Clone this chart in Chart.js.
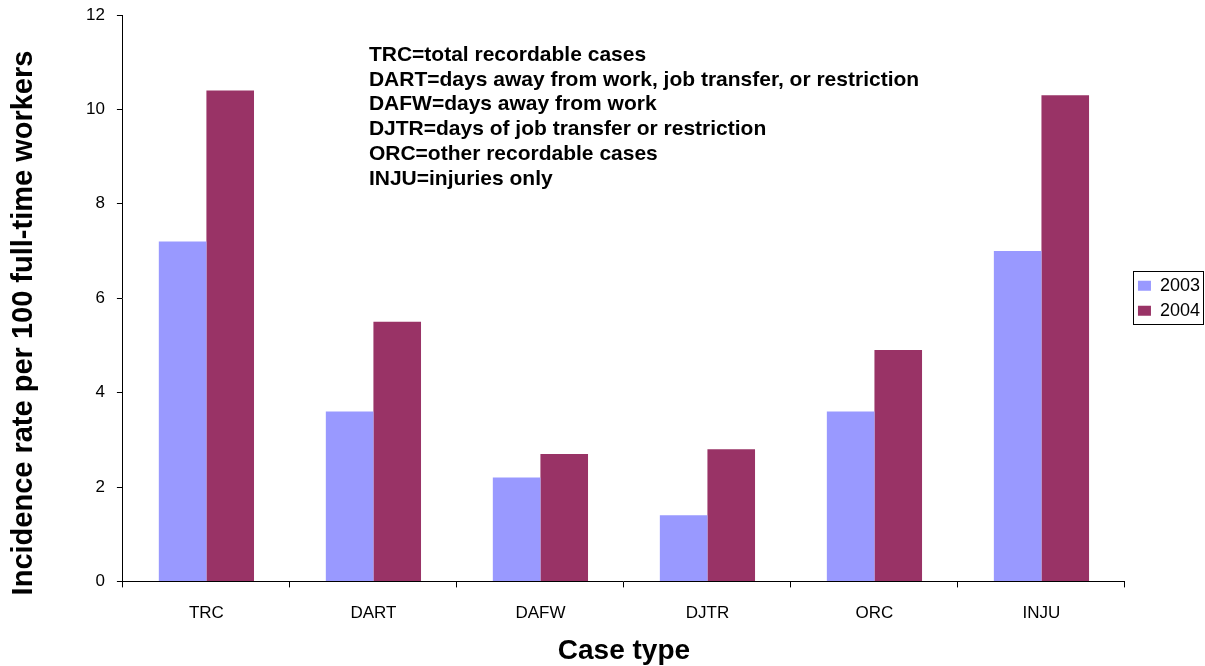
<!DOCTYPE html>
<html>
<head>
<meta charset="utf-8">
<script src="https://cdn.jsdelivr.net/npm/chart.js@4/dist/chart.umd.min.js"></script>
<style>
  html, body { margin: 0; padding: 0; background: #fff; }
  #wrap { width: 1205px; height: 666px; position: relative; }
</style>
</head>
<body>
<div id="wrap"><canvas id="c" width="1205" height="666"></canvas></div>
<script>
const categories = ["TRC", "DART", "DAFW", "DJTR", "ORC", "INJU"];
const series2003 = [7.2, 3.6, 2.2, 1.4, 3.6, 7.0];
const series2004 = [10.4, 5.5, 2.7, 2.8, 4.9, 10.3];
const seriesNames = ["2003", "2004"];
const yTicks = [0, 2, 4, 6, 8, 10, 12];
const yTitle = "Incidence rate per 100 full-time workers";
const xTitle = "Case type";
const notes = [
  "TRC=total recordable cases",
  "DART=days away from work, job transfer, or restriction",
  "DAFW=days away from work",
  "DJTR=days of job transfer or restriction",
  "ORC=other recordable cases",
  "INJU=injuries only"
];

const FONT = "'Liberation Sans', Arial, Helvetica, sans-serif";
const LEG_PAD = 7;
const LEG_FONT = 18;

const notesPlugin = {
  id: 'notes',
  afterDraw(chart) {
    const ctx = chart.ctx;
    const a = chart.chartArea;
    ctx.save();
    ctx.font = "bold 21px " + FONT;
    ctx.fillStyle = "#000";
    ctx.textBaseline = "middle";
    ctx.textAlign = "left";
    notes.forEach((t, i) => {
      ctx.fillText(t, a.left + 246, 55 + i * 24.8);
    });
    // rotated y-axis title
    ctx.font = "bold 29px " + FONT;
    ctx.textAlign = "center";
    ctx.textBaseline = "alphabetic";
    ctx.translate(32, 323);
    ctx.rotate(-Math.PI / 2);
    ctx.fillText(yTitle, 0, 0);
    ctx.restore();
  }
};

// place the legend next to the plot area (vertically centred on it) and frame it
const legendPlace = {
  id: 'legendPlace',
  afterLayout(chart) {
    const l = chart.legend;
    const a = chart.chartArea;
    if (!l) return;
    l.left = a.right + 6;
    l.right = 1205;
    l.width = l.right - l.left;
    l.top = a.top;
    l.bottom = a.bottom;
    l.height = l.bottom - l.top;
  },
  afterDraw(chart) {
    const l = chart.legend;
    if (!l || !l.columnSizes) return;
    const colH = l.columnSizes[0].height;
    const startY = ((l.top + LEG_PAD) + (l.bottom - colH)) / 2;
    const ctx = chart.ctx;
    ctx.save();
    ctx.strokeStyle = "#000";
    ctx.lineWidth = 1;
    const x0 = Math.round(l.left + 2) + 0.5;
    const y0 = Math.round(startY - 6) + 0.5;
    const y1 = Math.round(startY + colH - 3) + 0.5;
    ctx.strokeRect(x0, y0, 1203.5 - x0, y1 - y0);
    ctx.restore();
  }
};

new Chart(document.getElementById('c'), {
  type: 'bar',
  data: {
    labels: categories,
    datasets: [
      { label: seriesNames[0], data: series2003, backgroundColor: "#9999FF", borderWidth: 0 },
      { label: seriesNames[1], data: series2004, backgroundColor: "#993366", borderWidth: 0 }
    ]
  },
  options: {
    responsive: false,
    animation: false,
    devicePixelRatio: 1,
    layout: { padding: { top: 15, right: 1, left: 74, bottom: 0 } },
    datasets: { bar: { barPercentage: 1.0, categoryPercentage: 0.57 } },
    plugins: {
      legend: {
        position: 'right',
        align: 'center',
        labels: {
          color: "#000",
          font: { family: FONT, size: LEG_FONT },
          boxWidth: 13,
          boxHeight: 10,
          padding: LEG_PAD
        }
      },
      tooltip: { enabled: false },
      title: { display: false }
    },
    scales: {
      x: {
        offset: true,
        grid: {
          offset: true,
          drawOnChartArea: false,
          drawTicks: true,
          tickLength: 6,
          color: "#000"
        },
        border: { color: "#000", width: 1 },
        ticks: { color: "#000", font: { family: FONT, size: 17, lineHeight: 1 }, padding: 17 },
        title: {
          display: true,
          text: xTitle,
          color: "#000",
          font: { family: FONT, size: 28, weight: 'bold' },
          padding: { top: -4, bottom: -2 }
        }
      },
      y: {
        min: 0,
        max: 12,
        afterBuildTicks(scale) { scale.ticks = yTicks.map(v => ({ value: v })); },
        afterFit(scale) { scale.paddingTop = 0; scale.paddingBottom = 0; },
        grid: {
          drawOnChartArea: false,
          drawTicks: true,
          tickLength: 6,
          color: "#000"
        },
        border: { color: "#000", width: 1 },
        ticks: { color: "#000", font: { family: FONT, size: 17 }, padding: 12 },
        title: { display: false }
      }
    }
  },
  plugins: [notesPlugin, legendPlace]
});
</script>
</body>
</html>
